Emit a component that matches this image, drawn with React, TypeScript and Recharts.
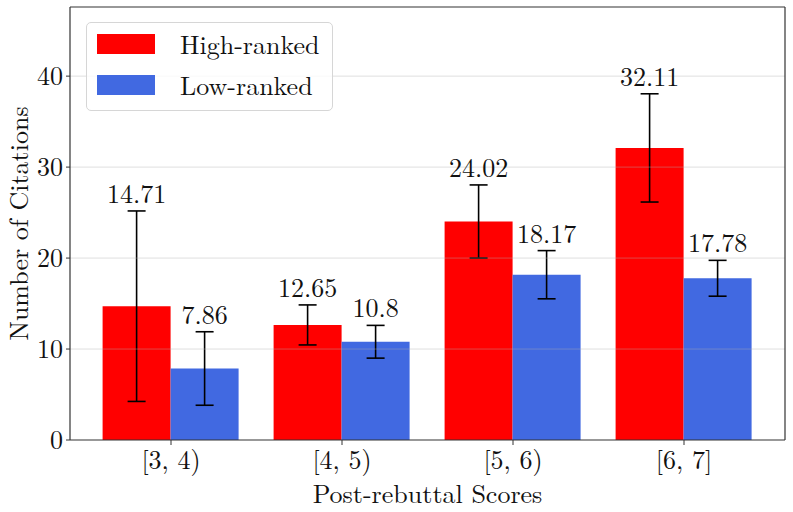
import React from 'react';
import { BarChart, Bar, XAxis, YAxis, ErrorBar, LabelList, ReferenceLine } from 'recharts';

const categories = ['[3, 4)', '[4, 5)', '[5, 6)', '[6, 7]'];
const highValues = [14.71, 12.65, 24.02, 32.11];
const highErrors = [10.47, 2.2, 4.02, 5.95];
const lowValues = [7.86, 10.8, 18.17, 17.78];
const lowErrors = [4.04, 1.8, 2.65, 1.97];
const yTicks = [0, 10, 20, 30, 40];
const gridLines = [10, 20, 30, 40];
const yMax = 47.6;

const series = [
  { key: 'high', errKey: 'highErr', name: 'High-ranked', color: '#ff0000', values: highValues, errors: highErrors },
  { key: 'low', errKey: 'lowErr', name: 'Low-ranked', color: '#4169e1', values: lowValues, errors: lowErrors },
];

const data = categories.map((c, i) => ({
  cat: c,
  high: highValues[i],
  highErr: [highErrors[i], highErrors[i]],
  low: lowValues[i],
  lowErr: [lowErrors[i], lowErrors[i]],
}));

const FONT = '"Latin Modern Roman", "Liberation Serif", serif';
const FS = 26;

const makeLabel = (values: number[], errors: number[]) => (props: any) => {
  const vb = props.viewBox && props.viewBox.width !== undefined ? props.viewBox : props;
  const { x, y, width, height } = vb;
  const value = Number(props.value);
  let idx = props.index;
  if (idx === undefined || idx === null) idx = values.indexOf(value);
  const perUnit = height / value;
  const top = y - errors[idx] * perUnit;
  return (
    <text x={x + width / 2} y={top - 8} textAnchor="middle" fontSize={FS} style={{ fontFamily: FONT }} fill="#111">
      {String(props.value)}
    </text>
  );
};

export default function App() {
  return (
    <div style={{ position: 'absolute', left: 0, top: 0, width: 793, height: 512, background: '#fff', fontFamily: FONT }}>
      <BarChart
        width={793}
        height={512}
        data={data}
        margin={{ top: 6, right: 7, bottom: 0, left: 0 }}
        barCategoryGap="10%"
        barGap={0}
        style={{ fontFamily: FONT }}
      >
        <XAxis
          dataKey="cat"
          height={72}
          padding={{ left: 15.5, right: 15.5 }}
          tick={{ fontSize: FS, fill: '#111', style: { fontFamily: FONT } }}
          tickSize={5}
          tickMargin={6}
          axisLine={{ stroke: '#333', strokeWidth: 1.2 }}
          tickLine={{ stroke: '#333' }}
          label={{ value: 'Post-rebuttal Scores', position: 'insideBottom', offset: 9, fontSize: FS, fill: '#111', style: { fontFamily: FONT } }}
        />
        <XAxis
          xAxisId="top"
          dataKey="cat"
          orientation="top"
          height={1}
          tick={false}
          tickLine={false}
          axisLine={{ stroke: '#333', strokeWidth: 1.2 }}
        />
        <YAxis
          width={70}
          domain={[0, yMax]}
          ticks={yTicks}
          tick={{ fontSize: FS, fill: '#111', style: { fontFamily: FONT } }}
          tickSize={4}
          tickMargin={3}
          axisLine={{ stroke: '#333', strokeWidth: 1.2 }}
          tickLine={{ stroke: '#333' }}
          label={{
            content: (p: any) => {
              const vb = p.viewBox;
              const cx = 28;
              const cy = vb.y + vb.height / 2;
              return (
                <text x={cx} y={cy} transform={`rotate(-90 ${cx} ${cy})`} textAnchor="middle" fontSize={FS} style={{ fontFamily: FONT }} fill="#111">
                  Number of Citations
                </text>
              );
            },
          }}
        />
        <YAxis
          yAxisId="right"
          orientation="right"
          width={1}
          domain={[0, yMax]}
          tick={false}
          tickLine={false}
          axisLine={{ stroke: '#333', strokeWidth: 1.2 }}
        />
        {series.map((s) => (
          <Bar key={s.key} dataKey={s.key} name={s.name} fill={s.color} isAnimationActive={false}>
            <ErrorBar dataKey={s.errKey} width={9} stroke="#000" strokeWidth={1.6} direction="y" />
            <LabelList dataKey={s.key} content={makeLabel(s.values, s.errors)} />
          </Bar>
        ))}
        {gridLines.map((g) => (
          <ReferenceLine key={g} y={g} stroke="#b0b0b0" strokeOpacity={0.4} strokeWidth={1} />
        ))}
      </BarChart>
      <div
        style={{
          position: 'absolute',
          left: 86,
          top: 22,
          width: 245,
          height: 87,
          border: '1px solid #d6d6d6',
          borderRadius: 5,
          background: 'rgba(255,255,255,0.8)',
          fontFamily: FONT,
          fontSize: FS,
          color: '#111',
        }}
      >
        {series.map((s, i) => (
          <div key={s.key} style={{ position: 'absolute', left: 10, top: 10 + i * 41, height: 22, display: 'flex', alignItems: 'center' }}>
            <div style={{ width: 58, height: 20, background: s.color }} />
            <span style={{ marginLeft: 25, lineHeight: '22px', whiteSpace: 'nowrap' }}>{s.name}</span>
          </div>
        ))}
      </div>
    </div>
  );
}
